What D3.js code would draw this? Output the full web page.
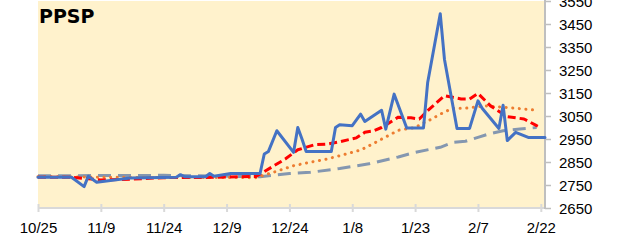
<!DOCTYPE html>
<html>
<head>
<meta charset="utf-8">
<script src="https://cdn.jsdelivr.net/npm/d3@7"></script>
<style>
  body { margin: 0; background: #fff; }
  svg { display: block; }
</style>
</head>
<body>
<svg class="chart" width="618" height="240"></svg>
<script>
// series, "MM/DD" -> value
var price = [
  ["10/25", 2784], ["11/02", 2784], ["11/05", 2743], ["11/06", 2788], ["11/08", 2762],
  ["11/16", 2780], ["11/27", 2784], ["11/28", 2795], ["11/29", 2786], ["12/04", 2786],
  ["12/05", 2800], ["12/06", 2788], ["12/10", 2800], ["12/17", 2800], ["12/18", 2885],
  ["12/19", 2896], ["12/21", 2986], ["12/25", 2892], ["12/26", 3000], ["12/27", 2950],
  ["12/28", 2896], ["01/03", 2896], ["01/04", 3000], ["01/05", 3012], ["01/08", 3008],
  ["01/10", 3058], ["01/11", 3026], ["01/15", 3075], ["01/16", 2993], ["01/18", 3145],
  ["01/21", 2998], ["01/25", 2998], ["01/26", 3196], ["01/29", 3495], ["01/30", 3297],
  ["02/02", 2996], ["02/05", 2996], ["02/07", 3116], ["02/08", 3084], ["02/12", 2996],
  ["02/13", 3097], ["02/14", 2943], ["02/16", 2979], ["02/19", 2957], ["02/23", 2957]
];
var maShort = [
  ["10/25", 2784], ["11/02", 2784], ["11/09", 2772], ["11/16", 2775], ["11/24", 2782],
  ["12/04", 2783], ["12/16", 2787], ["12/21", 2841], ["12/23", 2863], ["12/26", 2903],
  ["12/30", 2925], ["01/02", 2928], ["01/05", 2938], ["01/09", 2955], ["01/11", 2979],
  ["01/13", 2985], ["01/15", 3000], ["01/19", 3045], ["01/22", 3042], ["01/24", 3037],
  ["01/26", 3073], ["01/30", 3138], ["02/03", 3124], ["02/05", 3124], ["02/07", 3148],
  ["02/10", 3094], ["02/14", 3047], ["02/18", 3037], ["02/21", 3008], ["02/22", 2999]
];
var maMid = [
  ["10/25", 2786], ["11/16", 2783], ["12/16", 2782], ["12/21", 2810], ["12/25", 2834],
  ["12/29", 2849], ["01/02", 2863], ["01/06", 2882], ["01/10", 2902], ["01/13", 2930],
  ["01/19", 2988], ["01/23", 3000], ["01/25", 3020], ["01/27", 3037], ["01/29", 3058],
  ["02/01", 3084], ["02/04", 3084], ["02/09", 3094], ["02/14", 3087], ["02/21", 3075]
];
var maLong = [
  ["10/25", 2790], ["11/24", 2792], ["12/17", 2786], ["12/24", 2800], ["12/29", 2805],
  ["01/05", 2822], ["01/12", 2842], ["01/19", 2872], ["01/23", 2892], ["01/29", 2914],
  ["02/01", 2935], ["02/04", 2940], ["02/07", 2957], ["02/10", 2974], ["02/13", 2986],
  ["02/17", 2993], ["02/21", 3000]
];
var xTickLabels = ["10/25", "11/9", "11/24", "12/9", "12/24", "1/8", "1/23", "2/7", "2/22"];
var yTicks = [2650, 2750, 2850, 2950, 3050, 3150, 3250, 3350, 3450, 3550];

function toDate(s) {
  var p = s.split("/"), m = +p[0], d = +p[1];
  return new Date(m >= 10 ? 2023 : 2024, m - 1, d);
}

var chart = d3.select("svg.chart"),
    plotL = 38, plotR = 545, plotT = 1, plotB = 208;

var xScale = d3.scaleTime().domain([toDate("10/25"), toDate("02/23")]).range([plotL, plotR]);
var yScale = d3.scaleLinear().domain([2650, 3550]).range([plotB, plotT]);

chart.append("rect")
  .attr("x", plotL).attr("y", plotT)
  .attr("width", plotR - plotL).attr("height", plotB - plotT)
  .attr("fill", "#FFF2CC");

// axes
var xAxis = d3.axisBottom(xScale)
  .tickValues(xTickLabels.map(function(s) { return toDate(s); }))
  .tickFormat(function(d, i) { return xTickLabels[i]; })
  .tickSize(0);
var gx = chart.append("g").attr("transform", "translate(0," + plotB + ")").call(xAxis);
gx.select(".domain").remove();
gx.append("line").attr("x1", plotL).attr("x2", plotR).attr("y1", 0).attr("y2", 0)
  .attr("stroke", "#D9D9D9").attr("stroke-width", 2);
gx.selectAll(".tick").append("line").attr("y1", -4).attr("y2", 4)
  .attr("stroke", "#D9D9D9").attr("stroke-width", 2);
gx.selectAll(".tick text")
  .attr("y", 25).attr("dy", 0)
  .style("font-family", "'Liberation Sans', Arial, sans-serif")
  .style("font-size", "15px").attr("fill", "#000");

var yAxis = d3.axisRight(yScale).tickValues(yTicks).tickFormat(d3.format("d")).tickSize(6);
var gy = chart.append("g").attr("transform", "translate(" + plotR + ",0)").call(yAxis);
gy.select(".domain").remove();
gy.append("line").attr("x1", 0).attr("x2", 0).attr("y1", plotT - 1).attr("y2", plotB + 1)
  .attr("stroke", "#BFBFBF").attr("stroke-width", 2);
gy.selectAll(".tick line").attr("stroke", "#BFBFBF").attr("stroke-width", 1.5);
gy.selectAll(".tick text")
  .attr("x", 14).attr("dy", "0.35em")
  .style("font-family", "'Liberation Sans', Arial, sans-serif")
  .style("font-size", "15px").attr("fill", "#000");

// lines
var line = d3.line()
  .x(function(d) { return xScale(toDate(d[0])); })
  .y(function(d) { return yScale(d[1]); });

var series = [
  {data: maLong,  color: "#8497B0", dash: "13,7", cap: "butt"},
  {data: maMid,   color: "#ED7D31", dash: "0.1,6.5", cap: "round"},
  {data: maShort, color: "#FF0000", dash: "8,4", cap: "butt"},
  {data: price,   color: "#4472C4", dash: null, cap: "round"}
];

series.forEach(function(s) {
  chart.append("path")
    .attr("d", line(s.data))
    .attr("fill", "none")
    .attr("stroke", s.color)
    .attr("stroke-width", 3)
    .attr("stroke-linejoin", "round")
    .attr("stroke-linecap", s.cap)
    .attr("stroke-dasharray", s.dash);
});

chart.append("text")
  .attr("x", 39).attr("y", 23)
  .style("font-family", "'DejaVu Sans', Verdana, sans-serif")
  .style("font-weight", "bold")
  .style("font-size", "19px")
  .text("PPSP");
</script>
</body>
</html>
